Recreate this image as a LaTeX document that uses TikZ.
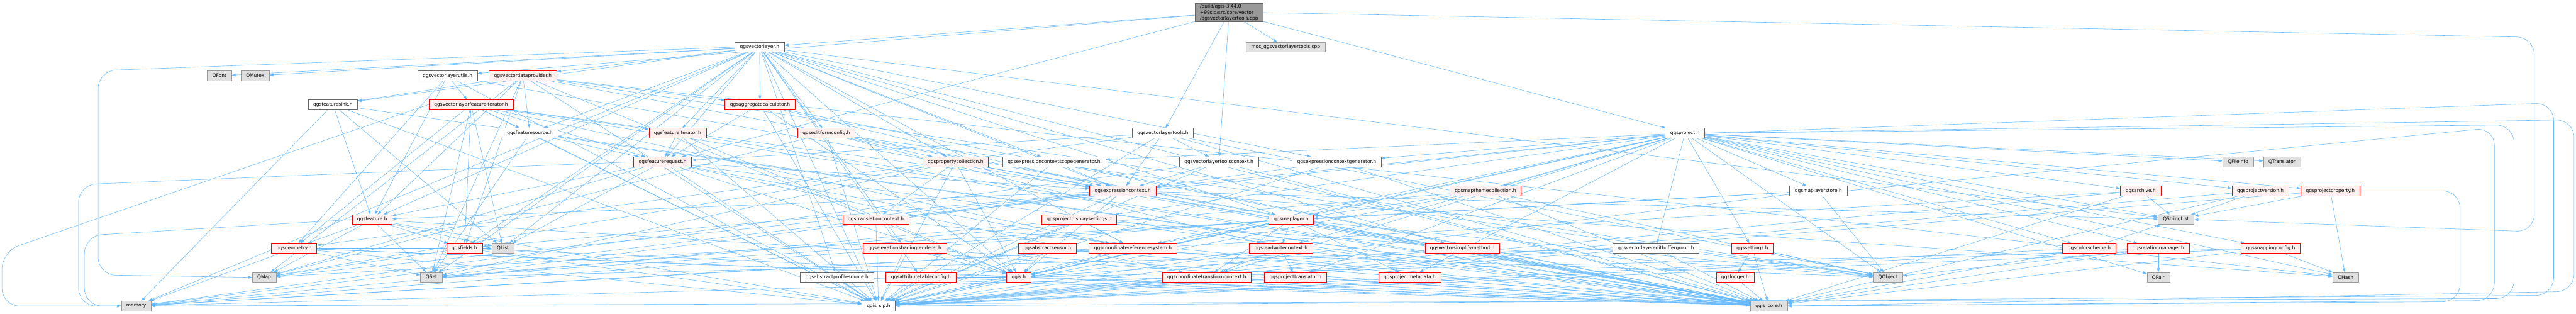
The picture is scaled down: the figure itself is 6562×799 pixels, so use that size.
\documentclass[tikz,border=0pt]{standalone}
\usepackage{fontspec}
\setmainfont{DejaVu Sans}
\usepackage{xcolor}
\usepackage{tikz}
\usetikzlibrary{arrows.meta,backgrounds}

\definecolor{edgeblue}{HTML}{63B8FF}
\definecolor{truncfill}{HTML}{FFF0F0}
\definecolor{extfill}{HTML}{E0E0E0}

\begin{document}
\begin{tikzpicture}[x=1pt, y=-1pt,
    hdr/.style={draw=black!60, fill=white, line width=1pt, inner xsep=13pt, inner ysep=0pt,
                minimum height=25pt, font=\fontsize{12}{14.5}\selectfont},
    hdrred/.style={hdr, draw=red, fill=truncfill},
    hdrext/.style={hdr, draw=black!40, fill=extfill},
    hdrroot/.style={hdr, fill=black!40, align=left, inner ysep=3pt},
    arr/.style={-{Triangle[length=10pt,width=7pt]}, draw=edgeblue, line width=0.9pt},
    detour/.style={arr, rounded corners=45pt}
  ]
  \useasboundingbox (0,0) rectangle (6562,799);

  % row 0 and 1
  \node[hdrroot] (root) at (3131,32) {/build/qgis-3.44.0\\+99sid/src/core/vector\\/qgsvectorlayertools.cpp};
  \node[hdrext] (moc) at (3275,120) {moc\_qgsvectorlayertools.cpp};
  \node[hdr]    (vl)  at (1935,120) {qgsvectorlayer.h};

  % row 2
  \node[hdrext] (qfont)   at (559,193)  {QFont};
  \node[hdrext] (qmutex)  at (650,193)  {QMutex};
  \node[hdr]    (vlutils) at (1140,193) {qgsvectorlayerutils.h};
  \node[hdrred] (vdp)     at (1332,193) {qgsvectordataprovider.h};

  % row 3
  \node[hdr]    (fsink)   at (848,266)  {qgsfeaturesink.h};
  \node[hdrred] (vlfi)    at (1200,266) {qgsvectorlayerfeatureiterator.h};
  \node[hdrred] (aggcalc) at (1936,266) {qgsaggregatecalculator.h};

  % row 4
  \node[hdr]    (fsource) at (1350,339) {qgsfeaturesource.h};
  \node[hdrred] (fiter)   at (1726,339) {qgsfeatureiterator.h};
  \node[hdrred] (efc)     at (2105,339) {qgseditformconfig.h};
  \node[hdr]    (vlt)     at (2962,339) {qgsvectorlayertools.h};
  \node[hdr]    (proj)    at (4292,339) {qgsproject.h};

  % row 5
  \node[hdrred] (freq)     at (1688,412) {qgsfeaturerequest.h};
  \node[hdrred] (propcoll) at (2434,412) {qgspropertycollection.h};
  \node[hdr]    (ecsg)     at (2685,412) {qgsexpressioncontextscopegenerator.h};
  \node[hdr]    (vltc)     at (3105,412) {qgsvectorlayertoolscontext.h};
  \node[hdr]    (ecg)      at (3405,412) {qgsexpressioncontextgenerator.h};
  \node[hdrext] (qfileinfo)   at (5701,412) {QFileInfo};
  \node[hdrext] (qtranslator) at (5813,412) {QTranslator};

  % row 6
  \node[hdrred] (ectx)     at (2860,486) {qgsexpressioncontext.h};
  \node[hdrred] (mtc)      at (3784,486) {qgsmapthemecollection.h};
  \node[hdr]    (mlstore)  at (4632,486) {qgsmaplayerstore.h};
  \node[hdrred] (archive)  at (5453,486) {qgsarchive.h};
  \node[hdrred] (projver)  at (5758,486) {qgsprojectversion.h};
  \node[hdrred] (projprop) at (5936,486) {qgsprojectproperty.h};

  % row 7
  \node[hdrred] (feat)  at (948,559)  {qgsfeature.h};
  \node[hdrred] (trctx) at (2231,559) {qgstranslationcontext.h};
  \node[hdrred] (pds)   at (2749,559) {qgsprojectdisplaysettings.h};
  \node[hdrred] (ml)    at (3289,559) {qgsmaplayer.h};
  \node[hdrext] (qstringlist) at (5543,559) {QStringList};

  % row 8
  \node[hdrred] (geom)     at (749,632)  {qgsgeometry.h};
  \node[hdrred] (fields)   at (1183,632) {qgsfields.h};
  \node[hdrext] (qlist)    at (1281,632) {QList};
  \node[hdrred] (esr)      at (2305,632) {qgselevationshadingrenderer.h};
  \node[hdrred] (asensor)  at (2668,632) {qgsabstractsensor.h};
  \node[hdrred] (crs)      at (2886,632) {qgscoordinatereferencesystem.h};
  \node[hdrred] (rwctx)    at (3263,632) {qgsreadwritecontext.h};
  \node[hdrred] (vsm)      at (3725,632) {qgsvectorsimplifymethod.h};
  \node[hdr]    (vlebg)    at (4218,632) {qgsvectorlayereditbuffergroup.h};
  \node[hdrred] (settings) at (4464,632) {qgssettings.h};
  \node[hdrred] (cscheme)  at (5322,632) {qgscolorscheme.h};
  \node[hdrred] (relman)   at (5498,632) {qgsrelationmanager.h};
  \node[hdrred] (snap)     at (5784,632) {qgssnappingconfig.h};

  % row 9
  \node[hdrext] (qmap)    at (673,706)  {QMap};
  \node[hdrext] (qset)    at (1099,706) {QSet};
  \node[hdr]    (aps)     at (2132,706) {qgsabstractprofilesource.h};
  \node[hdrred] (atc)     at (2346,706) {qgsattributetableconfig.h};
  \node[hdrred] (qgis)    at (2595,706) {qgis.h};
  \node[hdrred] (ctc)     at (3074,706) {qgscoordinatetransformcontext.h};
  \node[hdrred] (ptrans)  at (3300,706) {qgsprojecttranslator.h};
  \node[hdrred] (pmeta)   at (3591,706) {qgsprojectmetadata.h};
  \node[hdrred] (logger)  at (4420,706) {qgslogger.h};
  \node[hdrext] (qobject) at (4809,706) {QObject};
  \node[hdrext] (qpair)   at (5498,706) {QPair};
  \node[hdrext] (qhash)   at (5975,706) {QHash};

  % row 10
  \node[hdrext] (memory) at (347,779)  {memory};
  \node[hdr]    (sip)    at (2238,779) {qgis\_sip.h};
  \node[hdrext] (core)   at (4506,779) {qgis\_core.h};

  \begin{scope}[on background layer]
  % includes of the source file
  \draw[arr] (root) -- (moc);  \draw[arr] (root) -- (vlt);  \draw[arr] (root) -- (vl);
  \draw[arr] (root) -- (vlutils);  \draw[arr] (root) -- (proj);
  \draw[arr] (root) -- (vltc);  \draw[arr] (root) -- (freq);
  \draw[detour] (root.east) -- (6456,95) -- (6456,590) -- (qstringlist.east);

  % qgsvectorlayer.h
  \draw[arr] (vl) -- (qfont);  \draw[arr] (vl) -- (qmutex);
  \draw[detour] (vl.west) -- (250,180) -- (250,700) -- (qmap.west);
  \draw[arr] (vl) -- (qset);  \draw[arr] (vl) -- (qlist);  \draw[arr] (vl) -- (qstringlist);
  \draw[arr] (vl) -- (aggcalc);  \draw[arr] (vl) -- (freq);  \draw[arr] (vl) -- (fiter);
  \draw[arr] (vl) -- (fsink);  \draw[arr] (vl) -- (efc);  \draw[arr] (vl) -- (vdp);
  \draw[arr] (vl) -- (ml);  \draw[arr] (vl) -- (feat);  \draw[arr] (vl) -- (fields);
  \draw[arr] (vl) -- (fsource);  \draw[arr] (vl) -- (vsm);  \draw[arr] (vl) -- (atc);
  \draw[arr] (vl) -- (ecg);  \draw[arr] (vl) -- (ecsg);  \draw[arr] (vl) -- (propcoll);
  \draw[arr] (vl) -- (esr);  \draw[arr] (vl) -- (aps);  \draw[arr] (vl) -- (crs);
  \draw[arr] (vl) -- (ectx);  \draw[arr] (vl) -- (qgis);  \draw[arr] (vl) -- (core);
  \draw[arr] (vl) -- (sip);  \draw[arr] (vl) -- (memory);

  \draw[arr] (vlutils) -- (vlfi);  \draw[arr] (vlutils) -- (geom);  \draw[arr] (vlutils) -- (feat);
  \draw[arr] (vlutils) -- (core);  \draw[arr] (vlutils) -- (sip);

  \draw[arr] (vdp) -- (fsource);  \draw[arr] (vdp) -- (feat);  \draw[arr] (vdp) -- (fields);
  \draw[arr] (vdp) -- (qset);  \draw[arr] (vdp) -- (qmap);  \draw[arr] (vdp) -- (qhash);
  \draw[arr] (vdp) -- (qobject);  \draw[arr] (vdp) -- (core);  \draw[arr] (vdp) -- (sip);
  \draw[arr] (vdp) -- (fsink);  \draw[arr] (vdp) -- (aggcalc);  \draw[arr] (vdp) -- (qgis);

  \draw[arr] (fsink) -- (feat);  \draw[arr] (fsink) -- (qlist);  \draw[arr] (fsink) -- (memory);
  \draw[arr] (fsink) -- (core);  \draw[arr] (fsink) -- (sip);

  \draw[arr] (vlfi) -- (fsource);  \draw[arr] (vlfi) -- (fields);  \draw[arr] (vlfi) -- (qset);
  \draw[arr] (vlfi) -- (qlist);  \draw[arr] (vlfi) -- (fiter);  \draw[arr] (vlfi) -- (freq);
  \draw[arr] (vlfi) -- (geom);  \draw[arr] (vlfi) -- (ectx);  \draw[arr] (vlfi) -- (crs);
  \draw[arr] (vlfi) -- (core);  \draw[arr] (vlfi) -- (sip);
  \draw[detour] (vlfi.west) -- (5,640) -- (5,779) -- (memory.west);

  \draw[arr] (aggcalc) -- (freq);  \draw[arr] (aggcalc) -- (qgis);  \draw[arr] (aggcalc) -- (ectx);
  \draw[arr] (aggcalc) -- (core);  \draw[arr] (aggcalc) -- (sip);

  \draw[arr] (fsource) -- (freq);  \draw[arr] (fsource) -- (qset);
  \draw[arr] (fsource) -- (core);  \draw[arr] (fsource) -- (sip);
  \draw[arr] (fiter) -- (freq);  \draw[arr] (fiter) -- (qgis);
  \draw[arr] (fiter) -- (core);  \draw[arr] (fiter) -- (sip);

  \draw[arr] (efc) -- (propcoll);  \draw[arr] (efc) -- (rwctx);  \draw[arr] (efc) -- (qmap);
  \draw[arr] (efc) -- (qobject);  \draw[arr] (efc) -- (core);  \draw[arr] (efc) -- (sip);

  \draw[arr] (vlt) -- (ectx);  \draw[arr] (vlt) -- (vltc);  \draw[arr] (vlt) -- (freq);
  \draw[arr] (vlt) -- (geom);  \draw[arr] (vlt) -- (qobject);  \draw[arr] (vlt) -- (core);
  \draw[arr] (vlt) -- (sip);

  % qgsproject.h
  \draw[arr] (proj) -- (mtc);  \draw[arr] (proj) -- (mlstore);  \draw[arr] (proj) -- (settings);
  \draw[arr] (proj) -- (archive);  \draw[arr] (proj) -- (projver);  \draw[arr] (proj) -- (projprop);
  \draw[arr] (proj) -- (qfileinfo);  \draw[arr] (proj) -- (qtranslator);  \draw[arr] (proj) -- (qstringlist);
  \draw[arr] (proj) -- (relman);  \draw[arr] (proj) -- (snap);  \draw[arr] (proj) -- (pds);
  \draw[arr] (proj) -- (ml);  \draw[arr] (proj) -- (crs);  \draw[arr] (proj) -- (ctc);
  \draw[arr] (proj) -- (ptrans);  \draw[arr] (proj) -- (pmeta);  \draw[arr] (proj) -- (rwctx);
  \draw[arr] (proj) -- (ecg);  \draw[arr] (proj) -- (ecsg);  \draw[arr] (proj) -- (trctx);
  \draw[arr] (proj) -- (vlebg);  \draw[arr] (proj) -- (cscheme);  \draw[arr] (proj) -- (ectx);
  \draw[arr] (proj) -- (qobject);  \draw[arr] (proj) -- (qpair);  \draw[arr] (proj) -- (qhash);
  \draw[arr] (proj) -- (qgis);
  \draw[detour] (proj.east) -- (6557,305) -- (6557,742) -- (core.east);
  \draw[detour] (proj.east) -- (6505,262) -- (6505,752) -- (sip.east);
  \draw[detour] (proj.east) -- (6404,318) -- (6404,760) -- (memory.east);

  \draw[arr] (freq) -- (feat);  \draw[arr] (freq) -- (ectx);  \draw[arr] (freq) -- (crs);
  \draw[arr] (freq) -- (ctc);  \draw[arr] (freq) -- (qlist);  \draw[arr] (freq) -- (qmap);
  \draw[arr] (freq) -- (qgis);  \draw[arr] (freq) -- (core);  \draw[arr] (freq) -- (sip);
  \draw[detour] (freq.west) -- (200,470) -- (200,779) -- (memory.west);

  \draw[arr] (propcoll) -- (ectx);  \draw[arr] (propcoll) -- (trctx);  \draw[arr] (propcoll) -- (qmap);
  \draw[arr] (propcoll) -- (qset);  \draw[arr] (propcoll) -- (qgis);  \draw[arr] (propcoll) -- (core);
  \draw[arr] (propcoll) -- (sip);

  \draw[arr] (ecsg) -- (ectx);  \draw[arr] (ecsg) -- (core);  \draw[arr] (ecsg) -- (sip);
  \draw[arr] (vltc) -- (ectx);  \draw[arr] (vltc) -- (core);  \draw[arr] (vltc) -- (sip);
  \draw[arr] (vltc) -- (memory);
  \draw[arr] (ecg) -- (ectx);  \draw[arr] (ecg) -- (core);  \draw[arr] (ecg) -- (sip);

  \draw[arr] (ectx) -- (feat);  \draw[arr] (ectx) -- (fields);  \draw[arr] (ectx) -- (qset);
  \draw[arr] (ectx) -- (qstringlist);  \draw[arr] (ectx) -- (qhash);  \draw[arr] (ectx) -- (qmap);
  \draw[arr] (ectx) -- (qgis);  \draw[arr] (ectx) -- (memory);  \draw[arr] (ectx) -- (core);
  \draw[arr] (ectx) -- (sip);

  \draw[arr] (mtc) -- (ml);  \draw[arr] (mtc) -- (qobject);  \draw[arr] (mtc) -- (qset);
  \draw[arr] (mtc) -- (core);  \draw[arr] (mtc) -- (sip);
  \draw[arr] (mlstore) -- (ml);  \draw[arr] (mlstore) -- (qobject);  \draw[arr] (mlstore) -- (qmap);
  \draw[arr] (mlstore) -- (sip);
  \draw[detour] (mlstore.east) -- (6354,325) -- (6354,765) -- (core.east);
  \draw[arr] (archive) -- (qstringlist);  \draw[arr] (archive) -- (memory);
  \draw[arr] (archive) -- (core);  \draw[arr] (archive) -- (sip);
  \draw[arr] (projver) -- (qstringlist);  \draw[arr] (projver) -- (core);  \draw[arr] (projver) -- (sip);
  \draw[arr] (projprop) -- (qstringlist);  \draw[arr] (projprop) -- (qhash);  \draw[arr] (projprop) -- (sip);
  \draw[detour] (projprop.east) -- (6267,486) -- (6267,768) -- (core.east);

  \draw[arr] (feat) -- (geom);  \draw[arr] (feat) -- (fields);  \draw[arr] (feat) -- (qmap);
  \draw[arr] (feat) -- (qset);  \draw[arr] (feat) -- (qlist);
  \draw[arr] (feat) -- (core);  \draw[arr] (feat) -- (sip);
  \draw[detour] (feat.west) -- (215,600) -- (215,779) -- (memory.west);
  \draw[arr] (trctx) -- (core);  \draw[arr] (trctx) -- (sip);
  \draw[arr] (pds) -- (crs);  \draw[arr] (pds) -- (qobject);  \draw[arr] (pds) -- (memory);
  \draw[arr] (pds) -- (core);  \draw[arr] (pds) -- (sip);
  \draw[arr] (ml) -- (rwctx);  \draw[arr] (ml) -- (crs);  \draw[arr] (ml) -- (ctc);
  \draw[arr] (ml) -- (pmeta);  \draw[arr] (ml) -- (qobject);  \draw[arr] (ml) -- (qset);
  \draw[arr] (ml) -- (qgis);  \draw[arr] (ml) -- (memory);  \draw[arr] (ml) -- (core);
  \draw[arr] (ml) -- (sip);

  \draw[arr] (geom) -- (qset);  \draw[arr] (geom) -- (qlist);  \draw[arr] (geom) -- (qgis);
  \draw[arr] (geom) -- (memory);  \draw[arr] (geom) -- (core);  \draw[arr] (geom) -- (sip);
  \draw[arr] (fields) -- (qmap);  \draw[arr] (fields) -- (core);  \draw[arr] (fields) -- (sip);
  \draw[arr] (esr) -- (qgis);  \draw[arr] (esr) -- (core);  \draw[arr] (esr) -- (sip);
  \draw[arr] (asensor) -- (qgis);  \draw[arr] (asensor) -- (qobject);
  \draw[arr] (asensor) -- (core);  \draw[arr] (asensor) -- (sip);
  \draw[arr] (crs) -- (qgis);  \draw[arr] (crs) -- (memory);  \draw[arr] (crs) -- (core);
  \draw[arr] (crs) -- (sip);
  \draw[arr] (rwctx) -- (ptrans);  \draw[arr] (rwctx) -- (ctc);  \draw[arr] (rwctx) -- (qgis);
  \draw[arr] (rwctx) -- (core);  \draw[arr] (rwctx) -- (sip);
  \draw[arr] (vsm) -- (qgis);  \draw[arr] (vsm) -- (core);  \draw[arr] (vsm) -- (sip);
  \draw[arr] (vlebg) -- (qobject);  \draw[arr] (vlebg) -- (qset);
  \draw[arr] (vlebg) -- (core);  \draw[arr] (vlebg) -- (sip);
  \draw[arr] (settings) -- (logger);  \draw[arr] (settings) -- (qobject);  \draw[arr] (settings) -- (core);
  \draw[arr] (cscheme) -- (qstringlist);  \draw[arr] (cscheme) -- (core);  \draw[arr] (cscheme) -- (sip);
  \draw[arr] (relman) -- (qpair);  \draw[arr] (relman) -- (qobject);
  \draw[arr] (relman) -- (core);  \draw[arr] (relman) -- (sip);
  \draw[arr] (snap) -- (qhash);  \draw[arr] (snap) -- (qgis);  \draw[arr] (snap) -- (core);
  \draw[arr] (snap) -- (sip);

  \draw[arr] (aps) -- (core);  \draw[arr] (aps) -- (sip);
  \draw[arr] (atc) -- (qgis);  \draw[arr] (atc) -- (core);  \draw[arr] (atc) -- (sip);
  \draw[arr] (qgis) -- (core);  \draw[arr] (qgis) -- (sip);
  \draw[arr] (ctc) -- (memory);  \draw[arr] (ctc) -- (core);  \draw[arr] (ctc) -- (sip);
  \draw[arr] (ptrans) -- (core);  \draw[arr] (ptrans) -- (sip);
  \draw[arr] (pmeta) -- (core);  \draw[arr] (pmeta) -- (sip);
  \draw[arr] (logger) -- (core);
  \end{scope}
\end{tikzpicture}
\end{document}
